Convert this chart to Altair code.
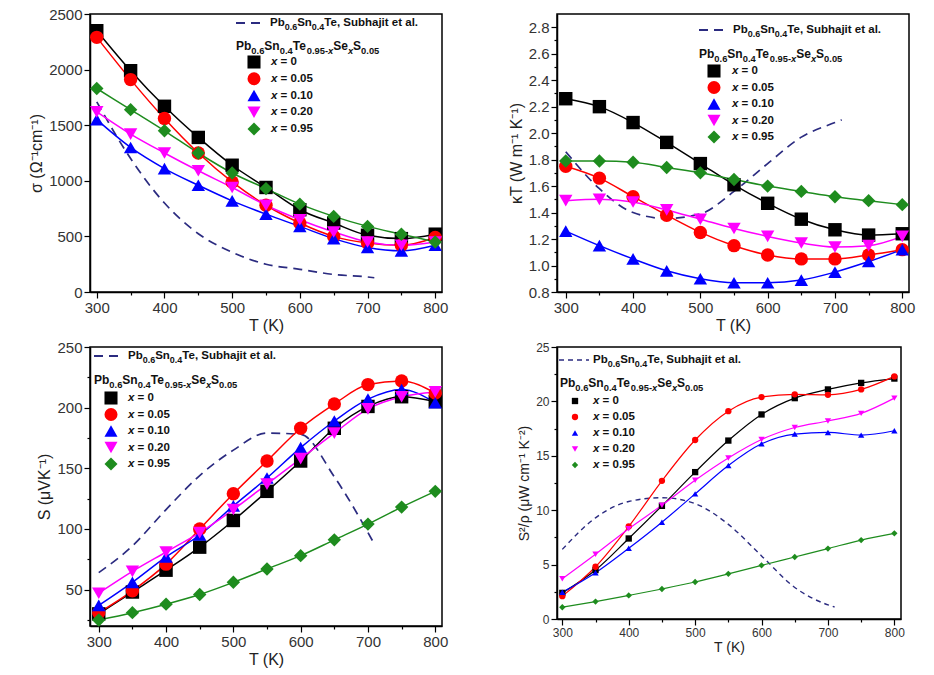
import altair as alt
import pandas as pd

# ---------------- data ----------------
T = [300, 350, 400, 450, 500, 550, 600, 650, 700, 750, 800]
T_ref = [300, 350, 400, 450, 500, 550, 600, 650, 700, 710]
labels = ["x = 0", "x = 0.05", "x = 0.10", "x = 0.20", "x = 0.95"]
colors = ["#000000", "#ff0000", "#0000ff", "#ff00ff", "#1e8c1e"]
shapes = ["square", "circle", "triangle-up", "triangle-down", "diamond"]
# legend texts as (text, kind) pieces: n = normal, s = subscript, si = italic subscript
REF_PIECES = [("Pb", "n"), ("0.6", "s"), ("Sn", "n"), ("0.4", "s"),
              ("Te, Subhajit et al.", "n")]
FORMULA_PIECES = [("Pb", "n"), ("0.6", "s"), ("Sn", "n"), ("0.4", "s"), ("Te", "n"),
                  ("0.95-", "s"), ("x", "si"), ("Se", "n"), ("x", "si"), ("S", "n"),
                  ("0.05", "s")]

# electrical conductivity (Ohm^-1 cm^-1)
sigma_x0 = [2350, 1990, 1670, 1390, 1140, 940, 740, 620, 510, 480, 520]
sigma_x005 = [2290, 1910, 1560, 1250, 990, 780, 620, 500, 440, 420, 490]
sigma_x010 = [1550, 1300, 1110, 960, 820, 700, 590, 480, 400, 370, 420]
sigma_x020 = [1620, 1420, 1250, 1090, 940, 780, 650, 540, 450, 420, 450]
sigma_x095 = [1830, 1640, 1450, 1250, 1070, 930, 790, 680, 590, 520, 450]
sigma_ref = [1710, 1200, 800, 524, 357, 250, 204, 158, 135, 128]

# total thermal conductivity (W m^-1 K^-1)
kappa_x0 = [2.26, 2.20, 2.08, 1.93, 1.77, 1.61, 1.47, 1.35, 1.27, 1.23, 1.24]
kappa_x005 = [1.75, 1.66, 1.52, 1.38, 1.25, 1.15, 1.08, 1.05, 1.05, 1.08, 1.12]
kappa_x010 = [1.26, 1.15, 1.05, 0.96, 0.90, 0.87, 0.87, 0.89, 0.95, 1.03, 1.12]
kappa_x020 = [1.49, 1.50, 1.48, 1.42, 1.35, 1.28, 1.22, 1.17, 1.14, 1.15, 1.22]
kappa_x095 = [1.79, 1.79, 1.78, 1.74, 1.70, 1.65, 1.60, 1.56, 1.52, 1.49, 1.46]
kappa_ref = [1.86, 1.58, 1.40, 1.355, 1.39, 1.56, 1.77, 1.97, 2.08, 2.10]

# Seebeck coefficient (uV K^-1)
seeb_x0 = [30, 48, 66, 85, 107, 131, 156, 183, 201, 209, 205]
seeb_x005 = [31, 49, 71, 100, 129, 156, 183, 203, 219, 222, 212]
seeb_x010 = [37, 56, 77, 95, 119, 142, 167, 189, 207, 215, 204]
seeb_x020 = [47, 65, 81, 97, 116, 137, 158, 179, 199, 209, 213]
seeb_x095 = [25, 31, 38, 46, 56, 67, 78, 91, 104, 118, 131]
seeb_ref = [64, 86, 116, 144, 165, 179, 178, 143, 97, 87]

# power factor (uW cm^-1 K^-2)
pf_x0 = [2.4, 4.5, 7.4, 10.4, 13.5, 16.4, 18.8, 20.3, 21.1, 21.7, 22.1]
pf_x005 = [2.1, 4.8, 8.5, 12.7, 16.45, 19.1, 20.4, 20.65, 20.6, 21.1, 22.3]
pf_x010 = [2.45, 4.25, 6.5, 8.9, 11.5, 14.1, 16.1, 17.0, 17.15, 16.9, 17.3]
pf_x020 = [3.7, 5.95, 8.3, 10.45, 12.75, 14.8, 16.5, 17.6, 18.2, 18.9, 20.3]
pf_x095 = [1.08, 1.6, 2.17, 2.76, 3.4, 4.15, 4.93, 5.7, 6.47, 7.25, 7.87]
pf_ref = [6.4, 9.3, 10.8, 11.15, 10.6, 8.7, 5.8, 2.9, 1.3, 1.1]

x_ticks = [300, 350, 400, 450, 500, 550, 600, 650, 700, 750, 800]
sigma_ticks = [0, 500, 1000, 1500, 2000, 2500]
kappa_ticks = [0.8, 0.9, 1.0, 1.1, 1.2, 1.3, 1.4, 1.5, 1.6, 1.7, 1.8, 1.9, 2.0,
               2.1, 2.2, 2.3, 2.4, 2.5, 2.6, 2.7, 2.8]
seeb_ticks = [25, 50, 75, 100, 125, 150, 175, 200, 225, 250]
pf_ticks = [0, 2.5, 5, 7.5, 10, 12.5, 15, 17.5, 20, 22.5, 25]

FONT = "Liberation Sans"
NAVY = "#2b2b80"
TXT = "#111111"

# Arial/Liberation Sans Bold advance widths (per 1000 em) for text layout
AW = {"P": 667, "b": 611, "S": 667, "n": 611, "T": 611, "e": 556, ".": 278,
      "-": 333, "x": 556, ",": 278, " ": 278, "u": 611, "h": 611, "a": 556,
      "j": 278, "i": 278, "t": 333, "l": 278, "=": 584}


def tw(s, size):
    return sum(AW.get(c, 556) for c in s) * size / 1000.0


def rich(pieces, x0, yc, size):
    layers = []
    xp = x0
    for txt, kind in pieces:
        fs = size if kind == "n" else size * 0.78
        yy = yc if kind == "n" else yc + size * 0.38
        layers.append(
            alt.Chart(pd.DataFrame({"t": [txt]})).mark_text(
                align="left", baseline="middle", font=FONT, fontSize=fs,
                fontWeight="bold", color=TXT,
                fontStyle="italic" if kind == "si" else "normal",
            ).encode(x=alt.value(xp), y=alt.value(yy), text="t:N")
        )
        xp += tw(txt, fs)
    return layers


def panel(series, ref, ytitle, ydomain, yticks, ytest, yfmt, xdomain, w, h,
          msize, lw, dash, fs, tfs, leg):
    rows = []
    for lab, vals in zip(labels, series):
        for t, v in zip(T, vals):
            rows.append({"T": t, "v": v, "series": lab})
    df = pd.DataFrame(rows)
    rdf = pd.DataFrame({"T": T_ref, "v": ref})

    xtest = "datum.value % 100 === 0"
    x = alt.X(
        "T:Q",
        scale=alt.Scale(domain=xdomain, nice=False, zero=False),
        axis=alt.Axis(
            values=x_ticks, title="T (K)",
            labelExpr=f"{xtest} ? datum.label : ''",
            tickSize={"condition": {"test": xtest, "value": 6}, "value": 3},
            labelFontSize=fs, titleFontSize=tfs, labelPadding=2, titlePadding=2,
        ),
    )
    y = alt.Y(
        "v:Q",
        scale=alt.Scale(domain=ydomain, nice=False, zero=False),
        axis=alt.Axis(
            values=yticks, title=ytitle, format=yfmt,
            labelExpr=f"({ytest}) ? datum.label : ''",
            tickSize={"condition": {"test": ytest, "value": 6}, "value": 3},
            labelFontSize=fs, titleFontSize=tfs, labelPadding=2, titlePadding=4,
        ),
    )
    cscale = alt.Scale(domain=labels, range=colors)
    sscale = alt.Scale(domain=labels, range=shapes)

    refline = alt.Chart(rdf).mark_line(
        strokeWidth=lw + 0.2, interpolate="monotone", color=NAVY, strokeDash=dash
    ).encode(x=x, y=y)
    lines = alt.Chart(df).mark_line(interpolate="monotone", strokeWidth=lw).encode(
        x=x, y=y, color=alt.Color("series:N", scale=cscale, legend=None),
    )
    pts = alt.Chart(df).mark_point(filled=True, size=msize, opacity=1).encode(
        x=x, y=y,
        color=alt.Color("series:N", scale=cscale, legend=None),
        shape=alt.Shape("series:N", scale=sscale, legend=None),
    )
    data_layer = alt.layer(refline, lines, pts)

    # ---- legend drawn inside the plot area ----
    ldf = pd.DataFrame({"series": labels, "rest": [s[2:] for s in labels]})
    ly = alt.Y("series:N", scale=alt.Scale(domain=labels, range=[leg["y0"], leg["y1"]],
                                           padding=0), axis=None)
    leg_pts = alt.Chart(ldf).mark_point(filled=True, size=leg["ms"], opacity=1).encode(
        x=alt.value(leg["sx"]), y=ly,
        color=alt.Color("series:N", scale=cscale, legend=None),
        shape=alt.Shape("series:N", scale=sscale, legend=None),
    )
    leg_x = alt.Chart(ldf).mark_text(
        align="left", baseline="middle", font=FONT, fontSize=11.5,
        fontWeight="bold", fontStyle="italic", color=TXT, text="x"
    ).encode(x=alt.value(leg["lx"]), y=ly)
    leg_rest = alt.Chart(ldf).mark_text(
        align="left", baseline="middle", font=FONT, fontSize=11.5,
        fontWeight="bold", color=TXT
    ).encode(x=alt.value(leg["lx"] + tw("x ", 11.5)), y=ly, text="rest:N")
    ref_rule = alt.Chart(pd.DataFrame({"k": [0]})).mark_rule(
        color=NAVY, strokeWidth=lw + 0.4, strokeDash=dash
    ).encode(x=alt.value(leg["rx"]), x2=alt.value(leg["rx"] + 30), y=alt.value(leg["ry"]))

    extra = rich(FORMULA_PIECES, leg["tx"], leg["ty"], 12) + \
        rich(REF_PIECES, leg["rx"] + 34, leg["ry"], 11.5)

    return (
        alt.layer(data_layer, leg_pts, leg_x, leg_rest, ref_rule, *extra)
        .resolve_scale(y="independent")
        .properties(width=w, height=h)
    )


p1 = panel([sigma_x0, sigma_x005, sigma_x010, sigma_x020, sigma_x095], sigma_ref,
           "σ (Ω⁻¹cm⁻¹)", [0, 2500], sigma_ticks, "true", "d", [290, 810],
           352, 278, 180, 1.5, [9, 6], 15, 16,
           dict(y0=48, y1=115, sx=164, lx=181, tx=146, ty=32, rx=146, ry=9, ms=170))
p2 = panel([kappa_x0, kappa_x005, kappa_x010, kappa_x020, kappa_x095], kappa_ref,
           "κT (W m⁻¹ K⁻¹)", [0.8, 2.9], kappa_ticks,
           "round(datum.value * 10) % 2 === 0", ".1f", [287, 810],
           352, 278, 180, 1.5, [9, 6], 15, 16,
           dict(y0=57, y1=123, sx=157, lx=175, tx=142, ty=40, rx=142, ry=16, ms=170))
p3 = panel([seeb_x0, seeb_x005, seeb_x010, seeb_x020, seeb_x095], seeb_ref,
           "S (μVK⁻¹)", [20, 250], seeb_ticks, "datum.value % 50 === 0", "d",
           [287, 810], 352, 279, 180, 1.5, [9, 6], 15, 16,
           dict(y0=51, y1=117, sx=21, lx=38, tx=4, ty=33, rx=4, ry=9, ms=170))
p4 = panel([pf_x0, pf_x005, pf_x010, pf_x020, pf_x095], pf_ref,
           "S²/ρ (μW cm⁻¹ K⁻²)", [0, 25], pf_ticks, "datum.value % 5 === 0", "d",
           [292, 810], 344, 272, 40, 1.2, [5, 4], 12, 14,
           dict(y0=54, y1=118, sx=18, lx=36, tx=3, ty=36, rx=2, ry=13, ms=40))

chart = (
    alt.concat(p1, p2, p3, p4, columns=2, spacing={"row": 55, "column": 115},
               bounds="flush")
    .properties(padding={"left": 27, "top": 6, "right": 5, "bottom": 5},
                background="white")
    .configure_view(stroke="#000000", strokeWidth=1.5)
    .configure_axis(
        grid=False, domainColor="#000000", domainWidth=1.5, tickColor="#000000",
        tickWidth=1.2, labelFont=FONT, labelColor="#333333", titleFont=FONT,
        titleColor="#222222", titleFontWeight="normal",
    )
)

chart.save("out.html", embed_options={"renderer": "svg", "actions": False})
